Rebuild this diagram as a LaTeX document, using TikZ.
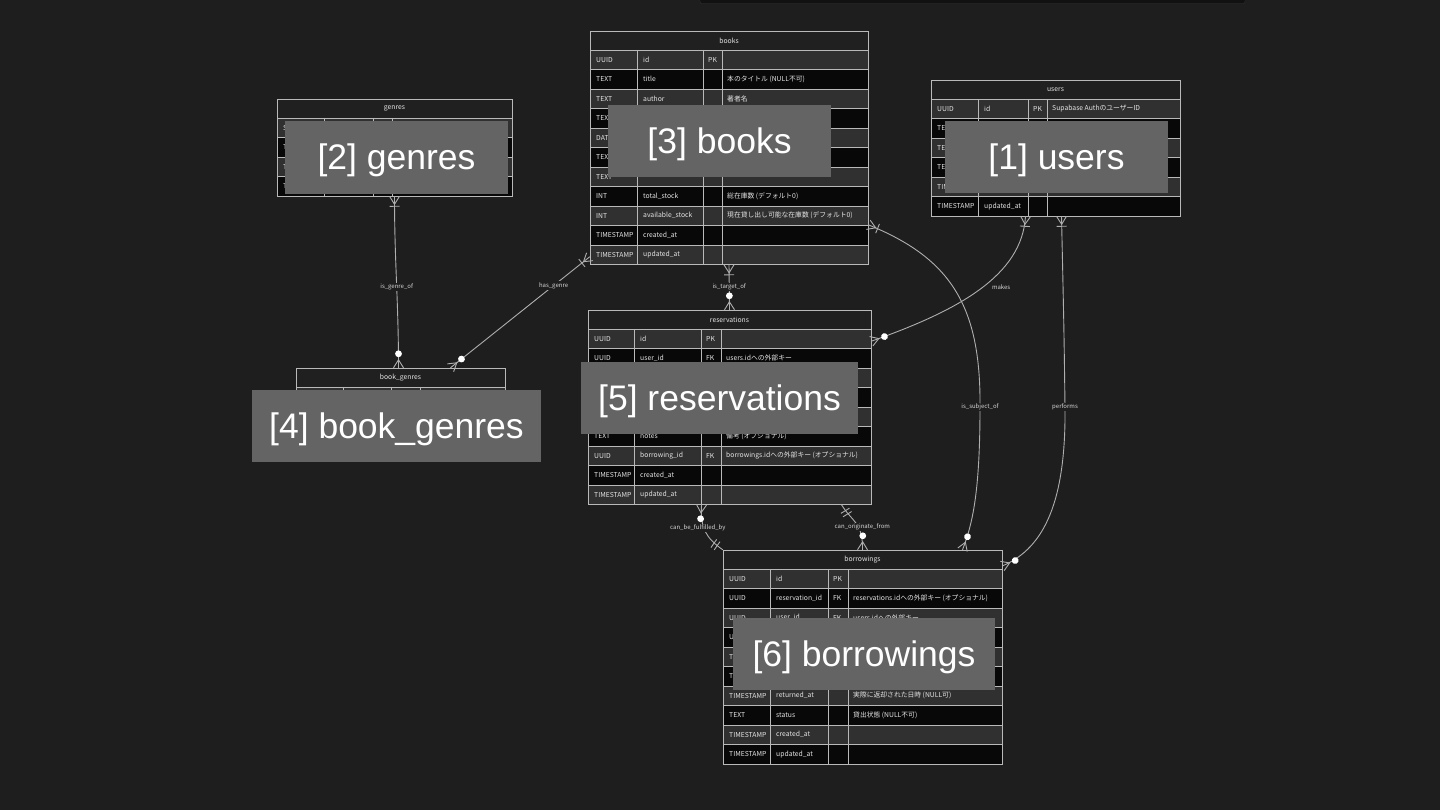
\documentclass[tikz,border=0pt]{standalone}
\usepackage{fontspec}
\usetikzlibrary{calc,fit,decorations.markings}
\newfontfamily\tblfont{Noto Sans CJK JP}
\newfontfamily\ovfont{Liberation Sans}
\definecolor{bgcol}{RGB}{30,30,30}
\definecolor{headfill}{RGB}{32,32,32}
\definecolor{rowodd}{RGB}{48,48,48}
\definecolor{roweven}{RGB}{8,8,8}
\definecolor{tablegray}{RGB}{185,185,185}
\definecolor{celltxt}{RGB}{228,228,228}
\definecolor{relgray}{RGB}{175,175,175}
\definecolor{labgray}{RGB}{215,215,215}
\definecolor{ovgray}{RGB}{100,100,100}
\definecolor{topbar}{RGB}{17,17,17}
\definecolor{topedge}{RGB}{48,48,48}

\tikzset{
  tline/.style={draw=tablegray,line width=0.8pt},
  celltext/.style={anchor=west,inner sep=0pt,text=celltxt,font=\tblfont\fontsize{6.8}{8}\selectfont},
  headtext/.style={inner sep=0pt,text=celltxt,font=\tblfont\fontsize{6.8}{8}\selectfont},
  ovbox/.style={fill=ovgray,text=white,inner sep=0pt,text height=28pt,text depth=3.7pt,
    font=\ovfont\fontsize{35.5}{40}\selectfont},
  rel/.style={draw=relgray,line width=0.9pt},
  relmk/.style={draw=relgray,line width=0.9pt},
  conlabel/.style={fill=bgcol,text=labgray,inner sep=1pt,font=\tblfont\fontsize{6}{7}\selectfont},
  % crow foot + bar (one or more)
  onemanyS/.style={postaction={decorate,decoration={markings,mark=at position 0.1pt with {%
    \draw[relmk] (0pt,5pt) -- (8pt,0pt) -- (0pt,-5pt); \draw[relmk] (10pt,5pt) -- (10pt,-5pt);}}}},
  % circle + crow foot (zero or more)
  zmanyS/.style={postaction={decorate,decoration={markings,mark=at position 0.1pt with {%
    \draw[relmk] (0pt,5pt) -- (8pt,0pt) -- (0pt,-5pt); \fill[white] (14pt,0pt) circle (3.4pt);}}}},
  zmanyE/.style={postaction={decorate,decoration={markings,mark=at position 0.9999 with {%
    \draw[relmk] (0pt,5pt) -- (-8pt,0pt) -- (0pt,-5pt); \fill[white] (-14pt,0pt) circle (3.4pt);}}}},
  % two bars (exactly one)
  onlyS/.style={postaction={decorate,decoration={markings,mark=at position 0.1pt with {%
    \draw[relmk] (7pt,5pt) -- (7pt,-5pt) (11pt,5pt) -- (11pt,-5pt);}}}},
  onlyE/.style={postaction={decorate,decoration={markings,mark=at position 0.9999 with {%
    \draw[relmk] (-7pt,5pt) -- (-7pt,-5pt) (-11pt,5pt) -- (-11pt,-5pt);}}}}
}

% #1 node name, #2 title, #3 left, #4-#6 column lines, #7 right, #8 top, #9 rows
\newcommand{\ertable}[9]{%
  \fill[headfill] (#3,#8) rectangle (#7,#8+19);
  \node[headtext] at ({(#3+#7)/2},#8+9.5) {\detokenize{#2}};
  \foreach \ty/\nm/\ky/\cm [count=\ri] in {#9}{%
    \pgfmathsetmacro{\ya}{#8+19+(\ri-1)*19.5}
    \ifodd\ri\relax\def\rf{rowodd}\else\def\rf{roweven}\fi
    \fill[fill=\rf] (#3,\ya) rectangle (#7,\ya+19.5);
    \draw[tline] (#3,\ya) -- (#7,\ya);
    \node[celltext] at (#3+6,\ya+9.75) {\ty};
    \node[celltext] at (#4+6,\ya+9.75) {\nm};
    \node[celltext] at (#5+5,\ya+9.75) {\ky};
    \node[celltext] at (#6+5,\ya+9.75) {\cm};
    \xdef\erlast{\ya}
  }
  \pgfmathsetmacro{\erbot}{\erlast+19.5}
  \foreach \cx in {#4,#5,#6} \draw[tline] (\cx,#8+19) -- (\cx,\erbot);
  \draw[tline] (#3,#8) rectangle (#7,\erbot);
  \coordinate (#1-nw) at (#3,#8);
  \coordinate (#1-se) at (#7,\erbot);
  \node[inner sep=0pt,fit=(#1-nw)(#1-se)] (#1) {};
}

\begin{document}
\begin{tikzpicture}[x=1pt,y=-1pt]
\useasboundingbox[fill=bgcol] (0,0) rectangle (1440,810);
\draw[fill=topbar,draw=topedge,rounded corners=2pt] (700,-6) rectangle (1245,3.5);

% tables
\ertable{books}{books}{590}{637}{703}{722}{868}{31}{
  UUID/id/PK/,
  TEXT/title//本のタイトル (NULL不可),
  TEXT/author//著者名,
  TEXT///,
  DATE///,
  TEXT///,
  TEXT///,
  INT/total\_stock//総在庫数 (デフォルト0),
  INT/available\_stock//現在貸し出し可能な在庫数 (デフォルト0),
  TIMESTAMP/created\_at//,
  TIMESTAMP/updated\_at//}
\ertable{users}{users}{931}{978}{1028}{1047}{1180}{80}{
  UUID/id/PK/Supabase AuthのユーザーID,
  TEXT///,
  TEXT///,
  TEXT///,
  TIMESTAMP///,
  TIMESTAMP/updated\_at//}
\ertable{genres}{genres}{277}{324}{373}{392}{512}{99}{
  SERIAL///,
  TEXT///,
  TIMESTAMP///,
  TIMESTAMP///}
\ertable{bookgenres}{book_genres}{296}{343}{391}{420}{505}{368}{
  ///,
  ///,
  ///}
\ertable{reservations}{reservations}{588}{634}{701}{721}{871}{310}{
  UUID/id/PK/,
  UUID/user\_id/FK/users.idへの外部キー,
  ///,
  ///,
  ///,
  TEXT/notes//備考 (オプショナル),
  UUID/borrowing\_id/FK/borrowings.idへの外部キー (オプショナル),
  TIMESTAMP/created\_at//,
  TIMESTAMP/updated\_at//}
\ertable{borrowings}{borrowings}{723}{770}{828}{848}{1002}{550}{
  UUID/id/PK/,
  UUID/reservation\_id/FK/reservations.idへの外部キー (オプショナル),
  UUID/user\_id/FK/users.idへの外部キー,
  UUID///,
  TIMESTAMP///,
  TIMESTAMP///,
  TIMESTAMP/returned\_at//実際に返却された日時 (NULL可),
  TEXT/status//貸出状態 (NULL不可),
  TIMESTAMP/created\_at//,
  TIMESTAMP/updated\_at//}

% relationships
\draw[rel,onemanyS,zmanyE] (genres.south) to[out=-90,in=90]
  node[conlabel,pos=0.53] {is\_genre\_of} ([xshift=-2pt]bookgenres.north);
\draw[rel,onemanyS,zmanyE] ([yshift=8pt]books.south west) --
  node[conlabel,pos=0.26] {has\_genre} ([xshift=50pt]bookgenres.north);
\draw[rel,onemanyS,zmanyE] (books.south) --
  node[conlabel] {is\_target\_of} (reservations.north);
\draw[rel,onemanyS,zmanyE] ([xshift=-30pt]users.south) .. controls (1022,275) and (960,310) ..
  ([yshift=66pt]reservations.east) node[conlabel,pos=0.45,xshift=13pt,yshift=-4pt] {makes};
\draw[rel,onemanyS,zmanyE] ([yshift=-77pt]books.east) .. controls (950,258) and (981,305) ..
  (980,407) node[conlabel] {is\_subject\_of} .. controls (980,495) and (972,525) ..
  ([xshift=100pt]borrowings.north);
\draw[rel,onemanyS,zmanyE] ([xshift=6pt]users.south) .. controls (1064,330) ..
  (1065,407) node[conlabel] {performs} .. controls (1066,500) and (1045,548) ..
  ([yshift=91pt]borrowings.east);
\draw[rel,zmanyS,onlyE] ([xshift=-28pt]reservations.south) .. controls (700,528) and (706,538) ..
  (borrowings.north west) node[conlabel,pos=0.42,xshift=-6pt] {can\_be\_fulfilled\_by};
\draw[rel,onlyS,zmanyE] ([xshift=112pt]reservations.south) .. controls (852,522) and (863,522) ..
  (borrowings.north) node[conlabel,pos=0.6,xshift=4pt] {can\_originate\_from};

% numbered overlays
\node[ovbox,minimum width=223pt,minimum height=73pt] (ovgenres) at (396.5,157.5) {[2] genres};
\node[ovbox,minimum width=223pt,minimum height=72pt] (ovbooks) at (719.5,141) {[3] books};
\node[ovbox,minimum width=223pt,minimum height=72pt] (ovusers) at (1056.5,157) {[1] users};
\node[ovbox,minimum width=289pt,minimum height=72pt] (ovbookgenres) at (396.5,426) {[4] book\_genres};
\node[ovbox,minimum width=277pt,minimum height=72pt] (ovreservations) at (719.5,398) {[5] reservations};
\node[ovbox,minimum width=262pt,minimum height=72pt] (ovborrowings) at (864,654) {[6] borrowings};
\end{tikzpicture}
\end{document}
